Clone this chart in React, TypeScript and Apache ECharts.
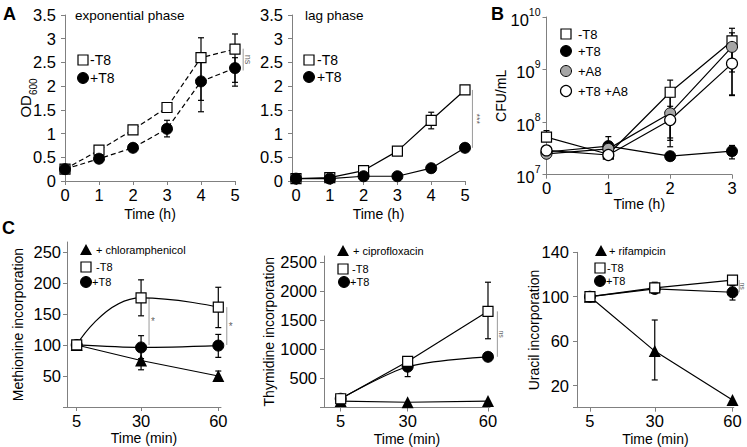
import React, { useEffect, useRef } from 'react';
import * as echarts from 'echarts';

const FONT = 'Liberation Sans, Arial, Helvetica, sans-serif';

// ---------- Panel A: exponential phase ----------
const hoursA = [0, 1, 2, 3, 4, 5];
const expMinusT8 = [0.25, 0.65, 1.08, 1.55, 2.6, 2.78];
const expPlusT8 = [0.25, 0.47, 0.7, 1.1, 2.1, 2.38];
const expMinusT8Err = [[3, 1.47, 1.65], [4, 1.46, 3.02], [5, 2.0, 3.1]];
const expPlusT8Err = [[3, 0.93, 1.28], [4, 1.7, 2.5], [5, 2.08, 2.6]];
const expSig = [[5.24, 2.79, 2.33]];

// ---------- Panel A: lag phase ----------
const lagMinusT8 = [0.05, 0.07, 0.22, 0.63, 1.28, 1.92];
const lagPlusT8 = [0.05, 0.05, 0.1, 0.1, 0.27, 0.7];
const lagMinusT8Err = [[4, 1.1, 1.45]];
const lagSig = [[5.22, 1.92, 0.7]];

// ---------- Panel B ----------
const hoursB = [0, 1, 2, 3];
const cfuMinusT8 = [5.2e7, 2.45e7, 3.7e8, 3.5e9];
const cfuPlusT8 = [2.7e7, 3.5e7, 2.25e7, 2.8e7];
const cfuPlusA8 = [2.5e7, 3.1e7, 1.47e8, 2.7e9];
const cfuPlusT8A8 = [2.9e7, 2.37e7, 1.1e8, 1.3e9];
const cfuMinusT8Err = [[0, 4.3e7, 6.9e7], [1, 2.1e7, 3.0e7], [2, 4.5e7, 6.3e8], [3, 3.2e8, 6.1e9]];
const cfuPlusT8Err = [[1, 2.6e7, 5.3e7], [3, 2.0e7, 3.6e7]];
const cfuPlusA8Err = [[2, 5.0e7, 3.0e8], [3, 9.0e8, 5.0e9]];
const cfuPlusT8A8Err = [[2, 3.4e7, 2.0e8], [3, 3.3e8, 3.5e9]];

// ---------- Panel C ----------
const minutes = [5, 30, 60];
const metChlor = [100, 75, 50];
const metMinusT8 = [100, 176, 161];
const metPlusT8 = [100, 96, 99];
const metChlorErr = [[30, 60, 90], [60, 43, 58]];
const metMinusT8Err = [[30, 147, 205], [60, 128, 193]];
const metPlusT8Err = [[30, 78, 115], [60, 80, 117]];
const metSig = [[33.1, 176, 100], [63.3, 161, 100]];

const thyCipro = [110, 90, 110];
const thyMinusT8 = [150, 790, 1650];
const thyPlusT8 = [150, 700, 870];
const thyMinusT8Err = [[30, 740, 840], [60, 1180, 2150]];
const thyPlusT8Err = [[30, 530, 780]];
const thySig = [[63.5, 1650, 870]];

const uraRif = [100, 51, 7];
const uraMinusT8 = [100, 108, 115];
const uraPlusT8 = [100, 107, 104];
const uraRifErr = [[30, 25, 79]];
const uraMinusT8Err = [[30, 103, 113]];
const uraPlusT8Err = [[60, 97, 110]];
const uraSig = [[62.6, 115, 104]];

const ticksA = [0, 1, 2, 3, 4, 5];
const ticksOD = [0, 0.5, 1, 1.5, 2, 2.5, 3, 3.5];
const ticksC = [5, 30, 60];
const metLabels = [50, 100, 150, 200, 250];
const thyLabels = [500, 1000, 1500, 2000, 2500];
const uraLabels = [20, 60, 100, 140];

const AX = '#808080';
const TICK_FS = 16.5;
const axisLine = { show: true, onZero: false, lineStyle: { color: AX, width: 1 } };

const SQ = { symbol: 'rect', symbolSize: 10, itemStyle: { color: '#fff', borderColor: '#000', borderWidth: 1.2 } };
const CI = { symbol: 'circle', symbolSize: 11, itemStyle: { color: '#000', borderColor: '#000', borderWidth: 1 } };
const GC = { symbol: 'circle', symbolSize: 11, itemStyle: { color: '#a6a6a6', borderColor: '#000', borderWidth: 1 } };
const WC = { symbol: 'circle', symbolSize: 11, itemStyle: { color: '#fff', borderColor: '#000', borderWidth: 1.2 } };
const TR = { symbol: 'triangle', symbolSize: 12, itemStyle: { color: '#000' } };

function lineS(gi: number, xs: number[], ys: number[], marker: any, dashed = false, smooth: any = false) {
  return {
    type: 'line', xAxisIndex: gi, yAxisIndex: gi,
    data: xs.map((x, k) => [x, ys[k]]),
    ...marker,
    smooth,
    lineStyle: { color: '#000', width: 1.2, type: dashed ? [5, 3] : 'solid' },
    z: 3, silent: true,
  };
}

function errS(gi: number, data: number[][]) {
  return {
    type: 'custom', xAxisIndex: gi, yAxisIndex: gi, data, silent: true, z: 2,
    itemStyle: { color: '#000' },
    encode: { x: 0, y: [1, 2] },
    renderItem: (_p: any, api: any) => {
      const x = api.value(0);
      const a = api.coord([x, api.value(1)]);
      const b = api.coord([x, api.value(2)]);
      const st = { stroke: '#000', lineWidth: 1.2 };
      const c = 3;
      return {
        type: 'group', children: [
          { type: 'line', shape: { x1: a[0], y1: a[1], x2: b[0], y2: b[1] }, style: st },
          { type: 'line', shape: { x1: a[0] - c, y1: a[1], x2: a[0] + c, y2: a[1] }, style: st },
          { type: 'line', shape: { x1: b[0] - c, y1: b[1], x2: b[0] + c, y2: b[1] }, style: st },
        ],
      };
    },
  };
}

// significance bracket line
function sigLine(gi: number, data: number[][]) {
  return {
    type: 'custom', xAxisIndex: gi, yAxisIndex: gi, data, silent: true, z: 1, clip: false,
    itemStyle: { color: '#9a9a9a' },
    encode: { x: 0, y: [1, 2] },
    renderItem: (_p: any, api: any) => {
      const x = api.value(0);
      const a = api.coord([x, api.value(1)]);
      const b = api.coord([x, api.value(2)]);
      return { type: 'line', shape: { x1: a[0], y1: a[1], x2: b[0], y2: b[1] }, style: { stroke: '#9a9a9a', lineWidth: 1 } };
    },
  };
}

// significance label, placed at the middle of the bracket
function sigText(gi: number, data: number[][], label: string, dx: number, fs: number, rotate = true) {
  return {
    type: 'scatter', xAxisIndex: gi, yAxisIndex: gi, silent: true, z: 1, clip: false,
    data: data.map((d) => [d[0], (d[1] + d[2]) / 2]),
    symbolSize: 1, itemStyle: { color: 'rgba(0,0,0,0)' },
    label: {
      show: true, position: 'inside', formatter: label, rotate: rotate ? -90 : 0,
      offset: rotate ? [0, -dx] : [dx, 0], color: '#333', fontSize: fs, fontFamily: FONT, fontWeight: 'normal',
    },
  };
}

const tickLbl = (margin: number) => ({
  show: true, color: '#000', fontSize: TICK_FS, fontFamily: FONT, fontWeight: 'normal', margin,
  formatter: (v: number) => String(v),
});
const nameStyle = { color: '#000', fontSize: 14, fontFamily: FONT, fontWeight: 'normal' };

function xAx(gi: number, min: number, max: number, ticks: number[], name: string, gap: number) {
  return {
    gridIndex: gi, type: 'value', min, max,
    axisLine, splitLine: { show: false },
    axisTick: { show: true, length: 4, lineStyle: { color: AX }, customValues: ticks },
    axisLabel: { ...tickLbl(5), customValues: ticks },
    name, nameLocation: 'middle', nameGap: gap, nameTextStyle: nameStyle, nameMoveOverlap: false,
  };
}

function yAx(gi: number, min: number, max: number, ticks: number[], labels: number[], name: any, gap: number, margin: number, rich?: any) {
  return {
    gridIndex: gi, type: 'value', min, max,
    axisLine, splitLine: { show: false },
    axisTick: { show: true, length: 4, lineStyle: { color: AX }, customValues: ticks },
    axisLabel: { ...tickLbl(margin), customValues: labels },
    name, nameLocation: 'middle', nameGap: gap, nameRotate: 90, nameMoveOverlap: false,
    nameTextStyle: { ...nameStyle, rich },
  };
}

function legendItems(items: { kind: string; x: number; y: number; text: string; tx: number; fs: number }[]) {
  const out: any[] = [];
  items.forEach((it) => {
    const { x, y } = it;
    if (it.kind === 'sq') out.push({ type: 'rect', shape: { x: x - 5, y: y - 5, width: 10, height: 10 }, style: { fill: '#fff', stroke: '#000', lineWidth: 1.2 } });
    if (it.kind === 'ci') out.push({ type: 'circle', shape: { cx: x, cy: y, r: 5.5 }, style: { fill: '#000', stroke: '#000', lineWidth: 1 } });
    if (it.kind === 'gc') out.push({ type: 'circle', shape: { cx: x, cy: y, r: 5.5 }, style: { fill: '#a6a6a6', stroke: '#000', lineWidth: 1 } });
    if (it.kind === 'wc') out.push({ type: 'circle', shape: { cx: x, cy: y, r: 5.5 }, style: { fill: '#fff', stroke: '#000', lineWidth: 1.2 } });
    if (it.kind === 'tr') out.push({ type: 'polygon', shape: { points: [[x, y - 6], [x + 6, y + 5], [x - 6, y + 5]] }, style: { fill: '#000' } });
    out.push({ type: 'text', x: it.tx, y, style: { text: it.text, fontSize: it.fs, fontFamily: FONT, fill: '#000', align: 'left', verticalAlign: 'middle' } });
  });
  return out;
}

function txt(x: number, y: number, text: string, fs: number, bold = false) {
  return { type: 'text', x, y, style: { text, fontSize: fs, fontWeight: bold ? 'bold' : 'normal', fontFamily: FONT, fill: '#000', align: 'left', verticalAlign: 'middle' } };
}

export default function App() {
  const ref = useRef<HTMLDivElement>(null);
  useEffect(() => {
    if (!ref.current) return;
    const chart = echarts.init(ref.current, undefined, { renderer: 'svg' });
    const grid = [
      { left: 65, top: 15, width: 170, height: 166 },
      { left: 292, top: 15, width: 173, height: 166 },
      { left: 546.5, top: 17, width: 185.5, height: 157.7 },
      { left: 67, top: 242, width: 154, height: 165 },
      { left: 324, top: 256, width: 166, height: 151.5 },
      { left: 577, top: 252.3, width: 156.8, height: 155.4 },
    ].map((g) => ({ ...g, containLabel: false, outerBoundsMode: 'none' }));

    const subRich = {
      a: { fontSize: 15, fontFamily: FONT, fontWeight: 'normal', color: '#000', lineHeight: 20, verticalAlign: 'top' },
      s: { fontSize: 10, fontFamily: FONT, fontWeight: 'normal', color: '#000', lineHeight: 12, verticalAlign: 'bottom' },
    };

    const option: any = {
      animation: false,
      backgroundColor: '#fff',
      textStyle: { fontFamily: FONT, fontWeight: 'normal' },
      grid,
      xAxis: [
        xAx(0, 0, 5, ticksA, 'Time (h)', 26),
        xAx(1, -0.118, 5, ticksA, 'Time (h)', 26),
        xAx(2, 0, 3, [0, 1, 2, 3], 'Time (h)', 22),
        xAx(3, 1.23, 61.05, ticksC, 'Time (min)', 24),
        xAx(4, -1.24, 60.75, ticksC, 'Time (min)', 24),
        xAx(5, 0, 60.5, ticksC, 'Time (min)', 24),
      ],
      yAxis: [
        yAx(0, 0, 3.5, ticksOD, ticksOD, '{a|OD}{s|600}', 27, 9, subRich),
        yAx(1, 0, 3.5, ticksOD, ticksOD, '', 30, 9),
        {
          gridIndex: 2, type: 'log', logBase: 10, min: 1e7, max: 1e10,
          axisLine, splitLine: { show: false }, minorTick: { show: false },
          axisTick: { show: true, length: 4, lineStyle: { color: AX } },
          axisLabel: {
            show: true, margin: 6,
            formatter: (v: number) => `{b|10}{s|${Math.round(Math.log10(v))}}`,
            rich: {
              b: { fontSize: TICK_FS, fontFamily: FONT, color: '#000', lineHeight: 22, verticalAlign: 'bottom' },
              s: { fontSize: 10.5, fontFamily: FONT, color: '#000', lineHeight: 12, verticalAlign: 'top' },
            },
          },
          name: 'CFU/mL', nameLocation: 'middle', nameGap: 39, nameRotate: 90, nameTextStyle: nameStyle, nameMoveOverlap: false,
        },
        yAx(3, 0, 266, [0, 50, 100, 150, 200, 250], metLabels, 'Methionine incorporation', 42, 6),
        yAx(4, 0, 2600, [0, 500, 1000, 1500, 2000, 2500], thyLabels, 'Thymidine incorporation', 48, 7),
        yAx(5, 0, 140, [0, 20, 60, 100, 140], uraLabels, 'Uracil incorporation', 36, 8),
      ],
      series: [
        // A exponential
        errS(0, expMinusT8Err), errS(0, expPlusT8Err),
        lineS(0, hoursA, expMinusT8, SQ, true),
        lineS(0, hoursA, expPlusT8, CI, true),
        sigLine(0, expSig), sigText(0, expSig, 'ns', 5, 9),
        // A lag
        errS(1, lagMinusT8Err),
        lineS(1, hoursA, lagMinusT8, SQ),
        lineS(1, hoursA, lagPlusT8, CI),
        sigLine(1, lagSig), sigText(1, lagSig, '***', 5, 9),
        // B
        errS(2, cfuMinusT8Err), errS(2, cfuPlusT8Err), errS(2, cfuPlusA8Err), errS(2, cfuPlusT8A8Err),
        lineS(2, hoursB, cfuMinusT8, SQ),
        lineS(2, hoursB, cfuPlusT8, CI),
        lineS(2, hoursB, cfuPlusA8, GC),
        lineS(2, hoursB, cfuPlusT8A8, WC),
        // C methionine
        errS(3, metChlorErr), errS(3, metMinusT8Err), errS(3, metPlusT8Err),
        lineS(3, minutes, metChlor, TR),
        lineS(3, minutes, metPlusT8, CI, false, 0.3),
        lineS(3, minutes, metMinusT8, SQ, false, 0.5),
        sigLine(3, metSig), sigText(3, metSig, '*', 4, 10, false),
        // C thymidine
        errS(4, thyMinusT8Err), errS(4, thyPlusT8Err),
        lineS(4, minutes, thyCipro, TR),
        lineS(4, minutes, thyPlusT8, CI, false, 0.3),
        lineS(4, minutes, thyMinusT8, SQ),
        sigLine(4, thySig), sigText(4, thySig, 'ns', 4, 7),
        // C uracil
        errS(5, uraRifErr), errS(5, uraMinusT8Err), errS(5, uraPlusT8Err),
        lineS(5, minutes, uraRif, TR),
        lineS(5, minutes, uraPlusT8, CI),
        lineS(5, minutes, uraMinusT8, SQ),
        sigLine(5, uraSig), sigText(5, uraSig, 'ns', 3.5, 7),
      ],
      graphic: [
        txt(3, 14, 'A', 18, true),
        txt(491, 14, 'B', 18, true),
        txt(2, 228, 'C', 18, true),
        txt(75, 15, 'exponential phase', 13.5),
        txt(305, 15, 'lag phase', 13.5),
        ...legendItems([
          { kind: 'sq', x: 83, y: 60, text: '-T8', tx: 90, fs: 14 },
          { kind: 'ci', x: 83, y: 78, text: '+T8', tx: 90, fs: 14 },
          { kind: 'sq', x: 309, y: 60, text: '-T8', tx: 317, fs: 14 },
          { kind: 'ci', x: 309, y: 77, text: '+T8', tx: 317, fs: 14 },
          { kind: 'sq', x: 566, y: 34, text: '-T8', tx: 578, fs: 13 },
          { kind: 'ci', x: 566, y: 51, text: '+T8', tx: 578, fs: 13 },
          { kind: 'gc', x: 566, y: 71, text: '+A8', tx: 578, fs: 13 },
          { kind: 'wc', x: 566, y: 91, text: '+T8 +A8', tx: 578, fs: 13 },
          { kind: 'tr', x: 86, y: 250, text: '+ chloramphenicol', tx: 96, fs: 11 },
          { kind: 'sq', x: 86, y: 267, text: '-T8', tx: 96, fs: 11 },
          { kind: 'ci', x: 86, y: 282, text: '+T8', tx: 92, fs: 11 },
          { kind: 'tr', x: 343, y: 251, text: '+ ciprofloxacin', tx: 353, fs: 11 },
          { kind: 'sq', x: 343, y: 269, text: '-T8', tx: 352, fs: 11 },
          { kind: 'ci', x: 344, y: 282, text: '+T8', tx: 350, fs: 11 },
          { kind: 'tr', x: 601, y: 251, text: '+ rifampicin', tx: 609, fs: 11 },
          { kind: 'sq', x: 600, y: 268, text: '-T8', tx: 607, fs: 11 },
          { kind: 'ci', x: 600, y: 281, text: '+T8', tx: 606, fs: 11 },
        ]),
      ],
    };
    chart.setOption(option);
    return () => chart.dispose();
  }, []);
  return <div ref={ref} style={{ position: 'absolute', left: 0, top: 0, width: 747, height: 447, background: '#fff' }} />;
}
